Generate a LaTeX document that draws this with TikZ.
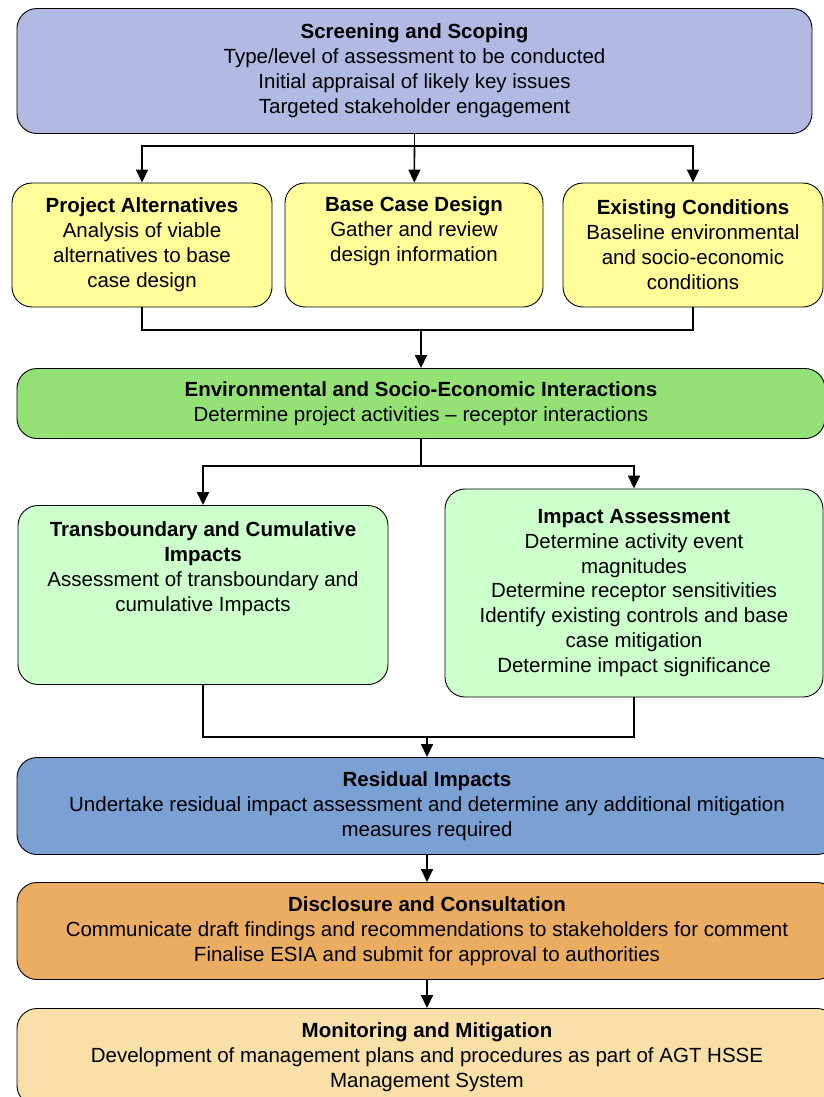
\documentclass[tikz,border=0pt]{standalone}
\usepackage{fontspec}
\setmainfont{Liberation Sans}
\usetikzlibrary{arrows.meta}
\definecolor{scopeblue}{RGB}{178,186,228}
\definecolor{designyellow}{RGB}{255,252,153}
\definecolor{interactgreen}{RGB}{148,226,118}
\definecolor{impactgreen}{RGB}{204,255,204}
\definecolor{residblue}{RGB}{122,160,212}
\definecolor{discorange}{RGB}{234,173,98}
\definecolor{montan}{RGB}{248,224,168}
\begin{document}
\begin{tikzpicture}[x=1pt, y=-1pt,
    box/.style={draw, line width=0.9pt, rounded corners=20pt, align=center,
        inner sep=0pt, font=\fontsize{20.5}{24.9}\selectfont},
    link/.style={line width=1.6pt},
    >={Triangle[length=13pt,width=12pt]}]
    \useasboundingbox (0,0) rectangle (824,1097);

    \node[box, fill=scopeblue, minimum width=795pt, minimum height=125pt] at (414.5, 71) (scr)
        {\textbf{Screening and Scoping}\\Type/level of assessment to be conducted\\
         Initial appraisal of likely key issues\\Targeted stakeholder engagement};
    \node[box, fill=designyellow, minimum width=260pt, minimum height=124pt] at (142, 245) (alt)
        {\textbf{Project Alternatives}\\Analysis of viable\\alternatives to base\\case design};
    \node[box, fill=designyellow, minimum width=258pt, minimum height=124pt] at (414, 245) (base)
        {\textbf{Base Case Design}\\Gather and review\\design information\\\strut};
    \node[box, fill=designyellow, minimum width=260pt, minimum height=124pt] at (693, 245) (exist)
        {\textbf{Existing Conditions}\\Baseline environmental\\and socio-economic\\conditions};
    \node[box, fill=interactgreen, minimum width=808pt, minimum height=70pt] at (421, 403.5) (env)
        {\textbf{Environmental and Socio-Economic Interactions}\\
         Determine project activities -- receptor interactions};
    \node[box, fill=impactgreen, minimum width=370pt, minimum height=179pt] at (203, 595) (trans)
        {\textbf{Transboundary and Cumulative}\\\textbf{Impacts}\\Assessment of transboundary and\\
         cumulative Impacts\\\strut\\\strut};
    \node[box, fill=impactgreen, minimum width=378pt, minimum height=208pt] at (634, 593) (impact)
        {\textbf{Impact Assessment}\\Determine activity event\\magnitudes\\Determine receptor sensitivities\\
         Identify existing controls and base\\case mitigation\\Determine impact significance};
    \node[box, fill=residblue, minimum width=820pt, minimum height=97pt] at (427, 806) (resid)
        {\textbf{Residual Impacts}\\Undertake residual impact assessment and determine any additional mitigation\\
         measures required};
    \node[box, fill=discorange, minimum width=820pt, minimum height=97pt] at (427, 931) (disc)
        {\textbf{Disclosure and Consultation}\\Communicate draft findings and recommendations to stakeholders for comment\\
         Finalise ESIA and submit for approval to authorities};
    \node[box, fill=montan, minimum width=820pt, minimum height=97pt] at (427, 1057) (mon)
        {\textbf{Monitoring and Mitigation}\\Development of management plans and procedures as part of AGT HSSE\\
         Management System};

    \coordinate (split1) at (414.5, 146);
    \coordinate (merge1) at (421, 330);
    \coordinate (split2) at (421, 466);
    \coordinate (merge2) at (427, 737);

    \draw[link] (scr) -- (split1);
    \draw[link, ->] (split1) -| (alt);
    \draw[link, ->] (split1) -- (base);
    \draw[link, ->] (split1) -| (exist);

    \draw[link] (alt) |- (merge1) -| (exist);
    \draw[link, ->] (merge1) -- (env);

    \draw[link] (env) -- (split2);
    \draw[link, ->] (split2) -| (trans);
    \draw[link, ->] (split2) -| (impact);

    \draw[link] (trans) |- (merge2) -| (impact);
    \draw[link, ->] (merge2) -- (resid);
    \draw[link, ->] (resid) -- (disc);
    \draw[link, ->] (disc) -- (mon);
\end{tikzpicture}
\end{document}
